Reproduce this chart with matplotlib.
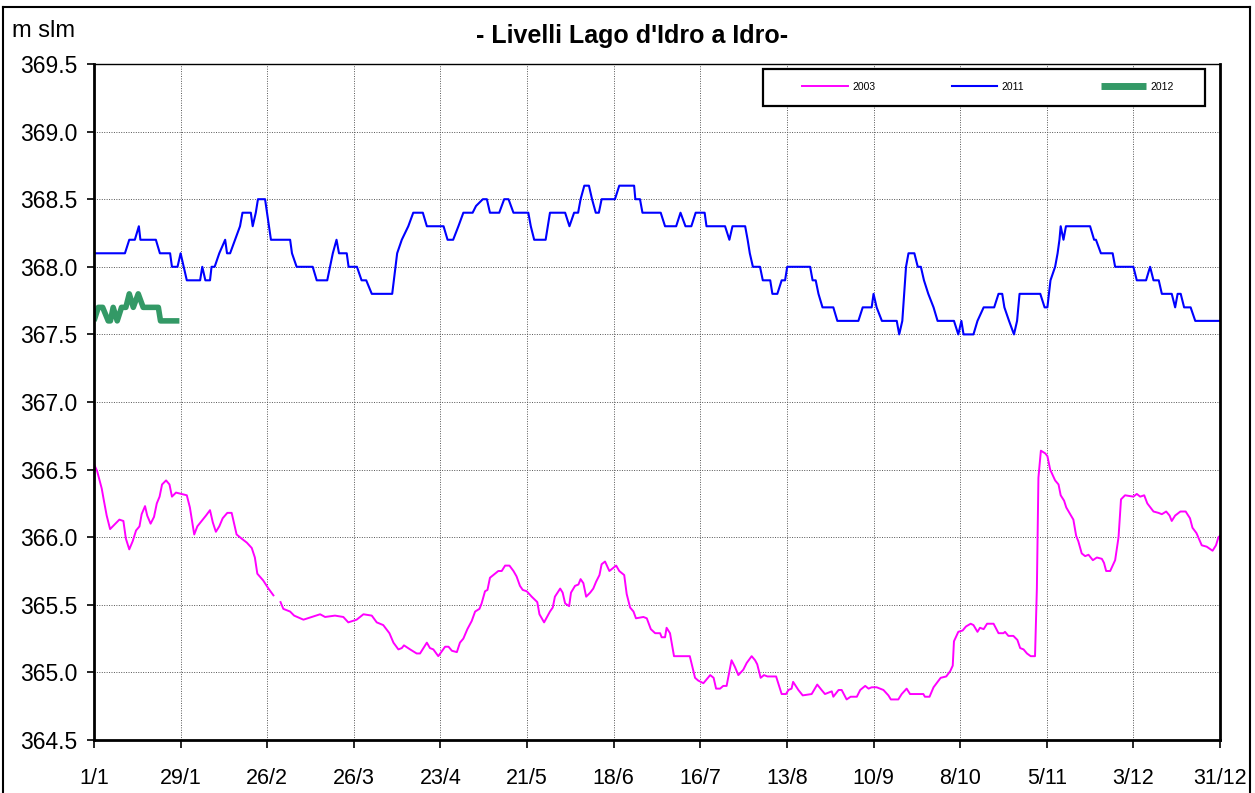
import numpy as np
import matplotlib
matplotlib.use('Agg')
import matplotlib.pyplot as plt
from matplotlib.lines import Line2D
from matplotlib.patches import Rectangle

plt.rcParams['font.family'] = ['Liberation Sans', 'DejaVu Sans']

# day of year (0 = 1/1) and lake level in m slm
days_2011 = [0, 10, 11.4, 13.2, 14.5, 15, 20, 21.3, 24.6, 25.2, 27, 28, 29, 30, 34.3, 35, 36, 37.5,
             38, 39, 40.5, 42.4, 43, 44, 45.6, 47.2, 48, 50.7, 51.3, 52.3, 53, 55.3, 57.2, 63.4,
             64, 65.5, 70.7, 72, 75.4, 76.3, 77.2, 78.4, 79.2, 81.7, 82.3, 85, 86.5, 88, 89.8,
             96.4, 98, 99.5, 101.6, 103.2, 106.3, 107.6, 113, 114.3, 116.1, 117.8, 119.4, 122.4,
             123.5, 125.7, 127, 128, 131, 132.6, 134, 135.6, 140.4, 141.2, 142.3, 146, 147.4,
             152.3, 153.7, 155.2, 156.5, 157.3, 158.5, 160, 161, 162.2, 163.2, 164.1, 168.4,
             169.8, 174.6, 175, 176.5, 177.3, 183.2, 184.6, 188.2, 189.6, 191.2, 193.1, 194.5,
             197.4, 198, 204, 205.4, 206.4, 210.5, 211.3, 212, 213, 215.3, 216.2, 218.6, 219.3,
             220.9, 222.3, 223.4, 224.1, 231.5, 232.3, 233.3, 234.2, 235.5, 239, 240.3, 247.1,
             248.5, 251.4, 252, 253, 254.7, 259.5, 260.3, 261.3, 262.5, 263.3, 265.2, 266.3,
             267.3, 268.3, 269.7, 271.4, 272.7, 278, 279.4, 280.4, 281.1, 284.3, 285.6, 287.6,
             291, 292.4, 293.6, 294.3, 295.8, 297.4, 298.4, 299.2, 305.9, 307.3, 308.2, 309.2,
             310.7, 311.5, 312.1, 312.5, 313.4, 314.2, 322, 323.3, 323.9, 325.5, 329.3, 330.1,
             336, 337.1, 340.1, 341.4, 342.5, 344.2, 345.2, 348.4, 349.5, 350.3, 351.3, 352.4,
             354.5, 356, 364]
level_2011 = [368.1, 368.1, 368.2, 368.2, 368.3, 368.2, 368.2, 368.1, 368.1, 368.0, 368.0, 368.1,
              368.0, 367.9, 367.9, 368.0, 367.9, 367.9, 368.0, 368.0, 368.1, 368.2, 368.1, 368.1,
              368.2, 368.3, 368.4, 368.4, 368.3, 368.4, 368.5, 368.5, 368.2, 368.2, 368.1, 368.0,
              368.0, 367.9, 367.9, 368.0, 368.1, 368.2, 368.1, 368.1, 368.0, 368.0, 367.9, 367.9,
              367.8, 367.8, 368.1, 368.2, 368.3, 368.4, 368.4, 368.3, 368.3, 368.2, 368.2, 368.3,
              368.4, 368.4, 368.45, 368.5, 368.5, 368.4, 368.4, 368.5, 368.5, 368.4, 368.4, 368.3,
              368.2, 368.2, 368.4, 368.4, 368.3, 368.4, 368.4, 368.5, 368.6, 368.6, 368.5, 368.4,
              368.4, 368.5, 368.5, 368.6, 368.6, 368.5, 368.5, 368.4, 368.4, 368.3, 368.3, 368.4,
              368.3, 368.3, 368.4, 368.4, 368.3, 368.3, 368.2, 368.3, 368.3, 368.2, 368.1, 368.0,
              368.0, 367.9, 367.9, 367.8, 367.8, 367.9, 367.9, 368.0, 368.0, 367.9, 367.9, 367.8,
              367.7, 367.7, 367.6, 367.6, 367.7, 367.7, 367.8, 367.7, 367.6, 367.6, 367.5, 367.6,
              368.0, 368.1, 368.1, 368.0, 368.0, 367.9, 367.8, 367.7, 367.6, 367.6, 367.5, 367.6,
              367.5, 367.5, 367.6, 367.7, 367.7, 367.8, 367.8, 367.7, 367.6, 367.5, 367.6, 367.8,
              367.8, 367.7, 367.7, 367.9, 368.0, 368.1, 368.2, 368.3, 368.2, 368.3, 368.3, 368.2,
              368.2, 368.1, 368.1, 368.0, 368.0, 367.9, 367.9, 368.0, 367.9, 367.9, 367.8, 367.8,
              367.7, 367.8, 367.8, 367.7, 367.7, 367.6, 367.6]

days_2012 = [0, 1.4, 2.8, 4.6, 5.3, 6.2, 7.5, 8.9, 10.3, 11.4, 12.7, 14.3, 15.9, 20.8, 21.5, 27.6]
level_2012 = [367.6, 367.7, 367.7, 367.6, 367.6, 367.7, 367.6, 367.7, 367.7, 367.8, 367.7, 367.8,
              367.7, 367.7, 367.6, 367.6]

days_2003 = [0, 1, 2.5, 3.2, 4.1, 5.2, 6.5, 8.2, 9.5, 10.3, 11.4, 12.5, 13.6, 14.7, 15.4, 16.5,
             17.2, 18.3, 19.4, 20.3, 21.2, 22, 23.3, 24.4, 25.2, 26.5, 28.3, 30, 31, 32.4, 33.4,
             34.8, 36.2, 37.5, 38.4, 39.4, 40.5, 41.6, 43.1, 44.5, 46.1, 47.7, 49.4, 51, 52, 52.8,
             54.7, 56.4, 58, 59, 60.3, 61.2, 63.4, 64.7, 67.7, 70.4, 73.1, 74.7, 77.9, 80.6, 82.2,
             84.9, 87.1, 89.8, 91.4, 93.5, 95.5, 96.8, 98.4, 99.5, 100.2, 102.2, 104.3, 105.4,
             107.6, 108.6, 109.7, 111.3, 113.5, 114.6, 115.7, 117.3, 118.3, 119.4, 120.7, 122.1,
             123.2, 124.6, 125.3, 126.4, 127.2, 128, 129.6, 130.7, 131.8, 132.9, 134.3, 135.6,
             136.6, 137.7, 138.6, 139.9, 141.5, 143.3, 144, 145.5, 147.4, 148.3, 149, 150.7,
             151.5, 152.3, 153.6, 154.2, 155.5, 156.6, 157.3, 158.2, 159.1, 160.4, 161.4, 162.3,
             163.4, 164.1, 165.2, 166.6, 167.7, 168.8, 169.8, 171.4, 172.2, 173.3, 174.4, 175.2,
             177.6, 178.7, 180, 181.4, 183, 183.5, 184.6, 185.1, 186.2, 187.5, 192.6, 194.3,
             195.3, 197, 198.1, 199.2, 200.3, 201.1, 202.4, 203.4, 204.5, 206.1, 207.2, 208.3,
             209.9, 211, 212.6, 213.7, 214.4, 215.5, 216.6, 217.7, 220.5, 222.3, 223.7, 224.5,
             225.5, 226, 227.7, 229.1, 232, 233.8, 235.2, 236.3, 238.5, 239, 240.7, 241.7, 243.3,
             244.6, 246.6, 247.7, 249.3, 250.4, 251.4, 253, 255.2, 256.8, 257.6, 260, 261.1,
             262.7, 263.8, 268.1, 268.6, 270.1, 271.4, 272.4, 273.7, 275.5, 276.8, 277.6, 278,
             279.4, 280.8, 281.9, 283.4, 284.3, 285.6, 286.4, 287.6, 288.7, 290.8, 292.4, 294,
             294.5, 295.6, 297.2, 298.5, 299.4, 300.5, 301.6, 302.8, 304.2, 304.8, 305.3, 306.1,
             307.5, 308.2, 309.1, 310.7, 311.8, 312.5, 313.6, 314.3, 315.6, 316.6, 317.5, 318.2,
             319.3, 320.4, 321.5, 322.9, 324.2, 325.8, 326.5, 327.2, 328.5, 330.1, 331.2, 332,
             333.3, 336, 337.1, 338.2, 339.5, 340.5, 342.5, 344.1, 345.2, 346.6, 347.7, 348.4,
             349.5, 351.2, 352.9, 354.3, 355.1, 356.4, 358.1, 359.7, 361.6, 362.7, 363.5, 364]
level_2003 = [366.54, 366.49, 366.36, 366.27, 366.16, 366.06, 366.09, 366.13, 366.12, 365.99,
              365.91, 365.97, 366.05, 366.08, 366.17, 366.23, 366.16, 366.10, 366.15, 366.25,
              366.30, 366.39, 366.42, 366.39, 366.30, 366.33, 366.32, 366.31, 366.22, 366.02,
              366.08, 366.12, 366.16, 366.20, 366.11, 366.04, 366.08, 366.14, 366.18, 366.18,
              366.02, 365.99, 365.96, 365.92, 365.85, 365.73, 365.68, 365.62, 365.57, np.nan,
              365.52, 365.47, 365.45, 365.42, 365.39, 365.41, 365.43, 365.41, 365.42, 365.41,
              365.37, 365.39, 365.43, 365.42, 365.37, 365.35, 365.29, 365.22, 365.17, 365.18,
              365.20, 365.17, 365.14, 365.14, 365.22, 365.18, 365.17, 365.12, 365.19, 365.19,
              365.16, 365.15, 365.22, 365.25, 365.32, 365.38, 365.45, 365.47, 365.51, 365.60,
              365.61, 365.70, 365.73, 365.75, 365.75, 365.79, 365.79, 365.75, 365.71, 365.64,
              365.61, 365.60, 365.56, 365.52, 365.43, 365.37, 365.45, 365.48, 365.56, 365.62,
              365.59, 365.51, 365.49, 365.59, 365.64, 365.65, 365.69, 365.66, 365.56, 365.59,
              365.62, 365.67, 365.72, 365.80, 365.82, 365.75, 365.77, 365.79, 365.75, 365.72,
              365.58, 365.48, 365.45, 365.40, 365.41, 365.40, 365.32, 365.29, 365.29, 365.26,
              365.26, 365.33, 365.29, 365.12, 365.12, 364.96, 364.94, 364.92, 364.95, 364.98,
              364.96, 364.88, 364.88, 364.90, 364.90, 365.09, 365.04, 364.98, 365.02, 365.07,
              365.12, 365.09, 365.06, 364.96, 364.98, 364.97, 364.97, 364.84, 364.84, 364.87,
              364.88, 364.93, 364.87, 364.83, 364.84, 364.91, 364.87, 364.84, 364.86, 364.82,
              364.87, 364.87, 364.80, 364.82, 364.82, 364.87, 364.90, 364.88, 364.89, 364.89,
              364.87, 364.83, 364.80, 364.80, 364.84, 364.88, 364.84, 364.84, 364.82, 364.82,
              364.89, 364.92, 364.96, 364.97, 365.01, 365.05, 365.23, 365.30, 365.31, 365.34,
              365.36, 365.35, 365.30, 365.33, 365.32, 365.36, 365.36, 365.29, 365.29, 365.30,
              365.27, 365.27, 365.24, 365.18, 365.17, 365.14, 365.12, 365.12, 365.62, 366.44,
              366.64, 366.62, 366.60, 366.50, 366.42, 366.39, 366.31, 366.27, 366.22, 366.17,
              366.13, 366.01, 365.97, 365.88, 365.86, 365.87, 365.83, 365.85, 365.84, 365.81,
              365.75, 365.75, 365.83, 366.00, 366.28, 366.31, 366.30, 366.32, 366.30, 366.31,
              366.25, 366.19, 366.18, 366.17, 366.19, 366.16, 366.12, 366.16, 366.19, 366.19,
              366.14, 366.07, 366.03, 365.94, 365.93, 365.90, 365.94, 366.00, 366.01]

tick_days = [0, 28, 56, 84, 112, 140, 168, 196, 224, 252, 280, 308, 336, 364]
tick_labels = ['1/1', '29/1', '26/2', '26/3', '23/4', '21/5', '18/6', '16/7', '13/8',
               '10/9', '8/10', '5/11', '3/12', '31/12']
y_ticks = [364.5, 365.0, 365.5, 366.0, 366.5, 367.0, 367.5, 368.0, 368.5, 369.0, 369.5]


fig = plt.figure(figsize=(12.55, 7.93), dpi=100)
ax = fig.add_axes([94 / 1255, 1 - 740 / 793, 1126 / 1255, 676 / 793])

ax.plot(days_2003, level_2003, color='#FF00FF', lw=1.4, label='2003')
ax.plot(days_2011, level_2011, color='#0000FF', lw=1.5, label='2011')
ax.plot(days_2012, level_2012, color='#339966', lw=4, label='2012', solid_capstyle='butt')

ax.set_xlim(0, 364)
ax.set_ylim(364.5, 369.5)
ax.set_xticks(tick_days)
ax.set_xticklabels(tick_labels)
ax.set_yticks(y_ticks)
ax.set_yticklabels(['%.1f' % v for v in y_ticks])
ax.tick_params(axis='x', direction='out', length=6, width=1.2, pad=14, labelsize=15.5)
ax.tick_params(axis='y', direction='out', length=5, width=1.2, pad=7, labelsize=16.5)
ax.grid(True, color='#555555', linestyle=(0, (1, 1.5)), linewidth=0.7)
ax.set_axisbelow(True)

for side in ['left', 'bottom', 'right']:
    ax.spines[side].set_linewidth(2)
    ax.spines[side].set_color('black')
ax.spines['top'].set_linewidth(1)

# legend box drawn separately, entries spread inside it
ax.add_patch(Rectangle((669 / 1126, 634 / 676), 442 / 1126, 37 / 676, transform=ax.transAxes,
                       facecolor='white', edgecolor='black', linewidth=1.6, zorder=5,
                       clip_on=False))
leg = ax.legend(loc='center', ncol=3, mode='expand',
                bbox_to_anchor=(708 / 1126, 653 / 676 - 0.01, 372 / 1126, 0.02),
                fontsize=7.5, handlelength=4.4, handletextpad=0.4, frameon=False,
                borderaxespad=0, borderpad=0)
leg.set_zorder(6)
leg.get_lines()[2].set_linewidth(5)

fig.text(12 / 1255, 1 - 31 / 793, 'm slm', ha='left', va='center', fontsize=17)
fig.text(632 / 1255, 1 - 36 / 793, "- Livelli Lago d'Idro a Idro-", ha='center', va='center',
         fontsize=18, fontweight='bold')

# outer frame of the picture
fig.add_artist(Line2D([3 / 1255, 3 / 1255], [0, 1 - 7 / 793], color='black', lw=1.5,
                      transform=fig.transFigure))
fig.add_artist(Line2D([3 / 1255, 1250 / 1255], [1 - 7 / 793, 1 - 7 / 793], color='black',
                      lw=1.5, transform=fig.transFigure))
fig.add_artist(Line2D([1250 / 1255, 1250 / 1255], [0, 1 - 7 / 793], color='black', lw=1.5,
                      transform=fig.transFigure))

fig.savefig('out.png', dpi=100)
